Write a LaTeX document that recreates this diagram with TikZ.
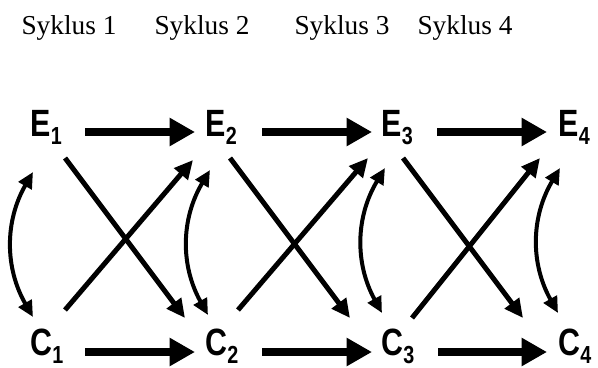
\documentclass[tikz,border=0pt]{standalone}
\usepackage{fontspec}
\setmainfont{Liberation Serif}
\newfontfamily\labfont[FakeStretch=0.8]{Liberation Sans}
\usetikzlibrary{arrows.meta,calc}
\tikzset{every picture/.style={line width=0.75pt}}
\tikzset{
  cyclabel/.style={anchor=base west,inner sep=0pt,font=\fontsize{20.5pt}{24pt}\selectfont},
  statenode/.style={anchor=base west,inner sep=0pt,font=\labfont\bfseries\fontsize{28.5pt}{30pt}\selectfont},
  fatarrow/.style={line width=6pt,-{Triangle[length=19pt,width=20pt]}},
  crossarrow/.style={line width=3.75pt,-{Triangle[length=14pt,width=13pt]}},
  backforth/.style={line width=3pt,{Triangle[length=12pt,width=11pt]}-{Triangle[length=12pt,width=11pt]}},
}
\newcommand{\statesub}[2]{#1\raisebox{-6.5pt}{\fontsize{18.5pt}{18.5pt}\selectfont #2}}
\begin{document}
\begin{tikzpicture}[x=0.75pt,y=0.75pt,yscale=-1,xscale=1]
\useasboundingbox (0,0) rectangle (598,367);
% Text Node
\node[cyclabel] (t1) at (21,35) {Syklus 1};
% Text Node
\node[cyclabel] (t2) at (154,35) {Syklus 2};
% Text Node
\node[cyclabel] (t3) at (294,35) {Syklus 3};
% Text Node
\node[cyclabel] (t4) at (417,35) {Syklus 4};
% Text Node
\node[statenode] (e1) at (30,136) {\statesub{E}{1}};
\node[statenode] (e2) at (205,136) {\statesub{E}{2}};
\node[statenode] (e3) at (381,136) {\statesub{E}{3}};
\node[statenode] (e4) at (558,136) {\statesub{E}{4}};
% Text Node
\node[statenode] (c1) at (30,355) {\statesub{C}{1}};
\node[statenode] (c2) at (205,355) {\statesub{C}{2}};
\node[statenode] (c3) at (381,355) {\statesub{C}{3}};
\node[statenode] (c4) at (558,355) {\statesub{C}{4}};
%Straight Lines
\draw[fatarrow] ($(e1.base west)+(55,-4)$) -- ($(e2.base west)+(-10,-4)$);
\draw[fatarrow] ($(e2.base west)+(57,-4)$) -- ($(e3.base west)+(-9,-4)$);
\draw[fatarrow] ($(e3.base west)+(56,-4)$) -- ($(e4.base west)+(-11,-4)$);
\draw[fatarrow] ($(c1.base west)+(55,-3)$) -- ($(c2.base west)+(-10,-3)$);
\draw[fatarrow] ($(c2.base west)+(57,-3)$) -- ($(c3.base west)+(-9,-3)$);
\draw[fatarrow] ($(c3.base west)+(57,-3)$) -- ($(c4.base west)+(-11,-3)$);
%Straight Lines
\draw[crossarrow] ($(e1.base west)+(35,22)$) -- ($(c2.base west)+(-20,-37)$);
\draw[crossarrow] ($(e2.base west)+(25,22)$) -- ($(c3.base west)+(-31,-37)$);
\draw[crossarrow] ($(e3.base west)+(22,22)$) -- ($(c4.base west)+(-35,-37)$);
\draw[crossarrow] ($(c1.base west)+(35,-45)$) -- ($(e2.base west)+(-12,24)$);
\draw[crossarrow] ($(c2.base west)+(33,-45)$) -- ($(e3.base west)+(-13,22)$);
\draw[crossarrow] ($(c3.base west)+(31,-37)$) -- ($(e4.base west)+(-18,22)$);
%Curve Lines
\draw[backforth] ($(e1.base west)+(3,36)$) to[bend left=30] ($(c1.base west)+(3,-38)$);
\draw[backforth] ($(e2.base west)+(5,34)$) to[bend left=30] ($(c2.base west)+(3,-40)$);
\draw[backforth] ($(e3.base west)+(4,32)$) to[bend left=30] ($(c3.base west)+(1,-42)$);
\draw[backforth] ($(e4.base west)+(2,32)$) to[bend left=30] ($(c4.base west)+(0,-42)$);
\end{tikzpicture}
\end{document}
